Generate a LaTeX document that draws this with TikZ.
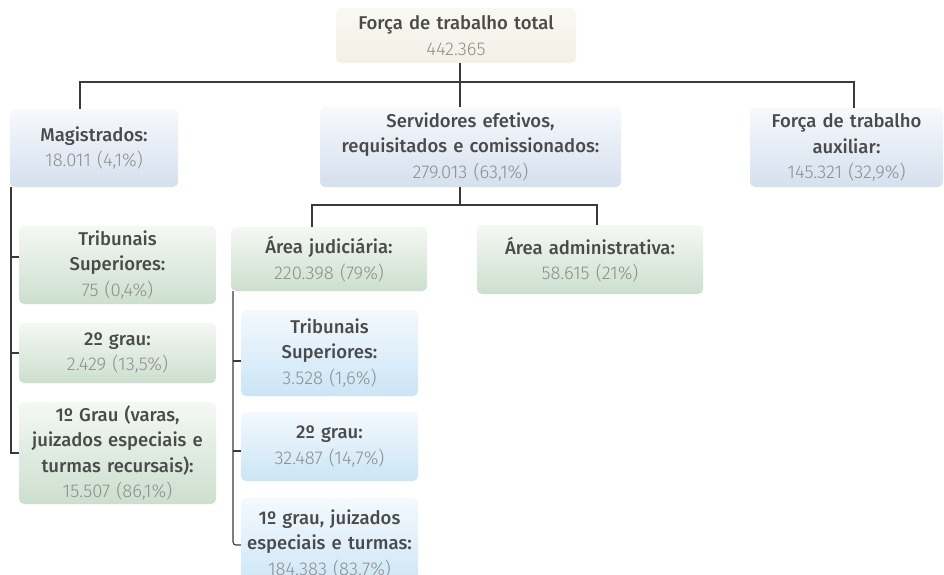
\documentclass[tikz,border=0pt]{standalone}
\usepackage{fontspec}
\setmainfont{Fira Sans}
\newfontfamily\headfont{Fira Sans Medium}
\newfontfamily\valuefont{Fira Sans Light}
\definecolor{headgray}{HTML}{4A4A4A}
\definecolor{valgray}{HTML}{8E8E8E}
\definecolor{linegray}{HTML}{3A3A3A}
\definecolor{creamtop}{HTML}{F9F8F2}
\definecolor{creambot}{HTML}{F2F1E6}
\definecolor{steeltop}{HTML}{F7F9FD}
\definecolor{steelbot}{HTML}{D5E0EE}
\definecolor{greentop}{HTML}{F5F8F4}
\definecolor{greenbot}{HTML}{CCDFCE}
\definecolor{skytop}{HTML}{F4F9FE}
\definecolor{skybot}{HTML}{CBE5F6}
\newcommand{\orglabel}[2]{{\headfont\color{headgray}#1\par}{\valuefont\color{valgray}#2\par}}

\begin{document}
\begin{tikzpicture}[x=1pt,y=-1pt,
    card/.style={rounded corners=5pt, align=center, inner sep=0pt,
        minimum width=#1, text width=#1,
        font=\fontsize{18.5}{25.5}\selectfont},
    cream/.style={card=#1, top color=creamtop, bottom color=creambot},
    steel/.style={card=#1, top color=steeltop, bottom color=steelbot},
    leaf/.style={card=#1, top color=greentop, bottom color=greenbot},
    sky/.style={card=#1, top color=skytop, bottom color=skybot},
    link/.style={draw=linegray, line width=1.1pt}]
    \clip (0,0) rectangle (944,574);
    \fill[white] (0,0) rectangle (944,574);

    \node[cream=240pt, minimum height=55pt] (total) at (456,35.5)
        {\orglabel{Força de trabalho total}{442.365}};

    \node[steel=168pt, minimum height=78pt] (mag) at (94,148)
        {\orglabel{Magistrados:}{18.011 (4,1\%)}};
    \node[steel=301pt, minimum height=80pt] (serv) at (470.5,147)
        {\orglabel{Servidores efetivos,\\requisitados e comissionados:}{279.013 (63,1\%)}};
    \node[steel=193pt, minimum height=79pt] (aux) at (846.5,147.5)
        {\orglabel{Força de trabalho\\auxiliar:}{145.321 (32,9\%)}};

    \node[leaf=197pt, minimum height=78pt] (magsup) at (117.5,265)
        {\orglabel{Tribunais\\Superiores:}{75 (0,4\%)}};
    \node[leaf=197pt, minimum height=60pt] (magsec) at (117.5,353)
        {\orglabel{2º grau:}{2.429 (13,5\%)}};
    \node[leaf=197pt, minimum height=102pt] (magfst) at (117.5,453)
        {\orglabel{1º Grau (varas,\\juizados especiais e\\turmas recursais):}{15.507 (86,1\%)}};

    \node[leaf=196pt, minimum height=64pt] (jud) at (329,259)
        {\orglabel{Área judiciária:}{220.398 (79\%)}};
    \node[leaf=226pt, minimum height=69pt] (adm) at (590,259.5)
        {\orglabel{Área administrativa:}{58.615 (21\%)}};

    \node[sky=177pt, minimum height=86pt] (judsup) at (329.5,353)
        {\orglabel{Tribunais\\Superiores:}{3.528 (1,6\%)}};
    \node[sky=177pt, minimum height=69pt] (judsec) at (329.5,446.5)
        {\orglabel{2º grau:}{32.487 (14,7\%)}};
    \node[sky=177pt, minimum height=92pt] (judfst) at (329.5,544)
        {\orglabel{1º grau, juizados\\especiais e turmas:}{184.383 (83,7\%)}};

    \coordinate (top) at (460,82);
    \coordinate (hl) at (80,82);
    \coordinate (hr) at (854,82);
    \coordinate (sl) at (312,205);
    \coordinate (sr) at (597,205);
    \coordinate (ml) at (11,0);
    \coordinate (jl) at (233,0);
    \coordinate (m1) at ([yshift=8pt]magsup.west);
    \coordinate (j1) at ([yshift=-8pt]judsup.west);
    \coordinate (j2) at ([yshift=-4.5pt]judsec.west);
    \coordinate (j3) at (judfst.west |- 0,545);

    \draw[link] (top |- total.south) -- (top |- serv.north);
    \draw[link] (hl |- mag.north) -- (hl) -- (hr) -- (hr |- aux.north);

    \draw[link] (top |- serv.south) -- (top |- sl);
    \draw[link] (sl |- jud.north) -- (sl) -- (sr) -- (sr |- adm.north);

    \draw[link] (ml |- mag.south) -- (ml |- magfst.west) -- (magfst.west);
    \draw[link] (ml |- m1) -- (m1);
    \draw[link] (ml |- magsec.west) -- (magsec.west);

    \draw[link, rounded corners=3pt] (jl |- jud.south) -- (jl |- j3) -- (j3);
    \draw[link] (jl |- j1) -- (j1);
    \draw[link] (jl |- j2) -- (j2);
\end{tikzpicture}
\end{document}
